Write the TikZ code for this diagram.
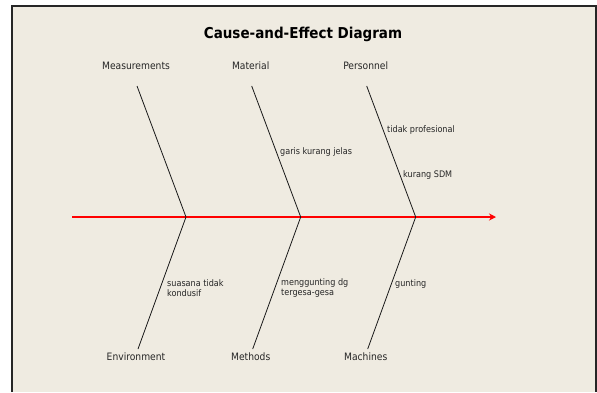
\documentclass[tikz,border=0pt]{standalone}
\usepackage{fontspec}
\setmainfont{DejaVu Sans Condensed}
\usetikzlibrary{arrows.meta}
\definecolor{panel}{HTML}{EFEBE1}
\definecolor{spinered}{HTML}{FF0000}

\tikzset{
  fish spine/.style={draw=spinered,line width=1pt,-{Stealth[length=7pt,width=7pt]}},
  spine fill/.style={fill=spinered},
  fish bone/.style={line width=0.8pt,draw=black!90},
  bone label/.style={font=\fontsize{10.2}{12}\selectfont,inner sep=0pt,text=black!85},
  cause label/.style={font=\fontsize{9}{10}\selectfont,inner sep=0pt,
    anchor=west,align=left,text=black!85}
}

\begin{document}
\begin{tikzpicture}[x=1pt,y=-1pt]
      \useasboundingbox (0,0) rectangle (597,392);
      \fill[panel] (12,6) rectangle (596,392);
      \draw[line width=1.5pt,black!85] (12,392) -- (12,6) -- (596,6) -- (596,392);
      \node[font=\bfseries\fontsize{15}{18}\selectfont] (title) at (303,34)
        {Cause-and-Effect Diagram};
      % spine
      \coordinate (tail) at (72,217);
      \coordinate (head) at (496,217);
      \draw[fish spine] (tail) -- (head);
      \fill[spine fill] ([yshift=0.6pt]tail) rectangle ([yshift=-0.6pt,xshift=-4pt]head);
      % bones
      \foreach \x/\up/\dn [count=\i] in
        {186/Measurements/Environment,300.7/Material/Methods,415.7/Personnel/Machines} {
        \coordinate (j\i) at (\x,217);
        \coordinate (t\i) at (\x-49,86);
        \coordinate (b\i) at (\x-48,349);
        \node[bone label] (up\i) at (\x-50,66) {\up};
        \node[bone label] (dn\i) at (\x-50,357) {\dn};
        \draw[fish bone] (t\i) -- (j\i) -- (b\i);
      }
      % causes
      \node[cause label] (garis) at (280,152) {garis kurang jelas};
      \node[cause label] (tidak) at (387,130) {tidak profesional};
      \node[cause label] (sdm) at (403,175) {kurang SDM};
      \node[cause label] (suasana) at (167,288.5) {suasana tidak\\kondusif};
      \node[cause label] (gesa) at (281,288.5) {menggunting dg\\tergesa-gesa};
      \node[cause label] (gunting) at (395,284) {gunting};
    \end{tikzpicture}
\end{document}
